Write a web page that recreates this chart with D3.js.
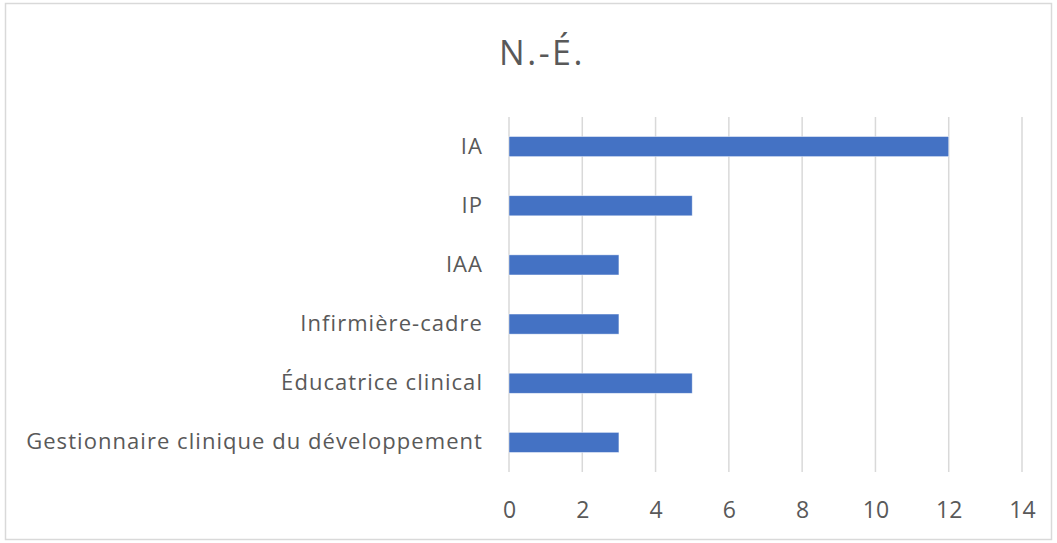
<!DOCTYPE html>
<html>
<head>
<meta charset="utf-8">
<script src="https://cdn.jsdelivr.net/npm/d3@7"></script>
<style>
  body { margin: 0; background: #fff; }
  text { font-family: "Open Sans", "DejaVu Sans", sans-serif; fill: #595959; }
</style>
</head>
<body>
<div id="chart"></div>
<script>
// Chart data
var categories = ["IA", "IP", "IAA", "Infirmière-cadre", "Éducatrice clinical", "Gestionnaire clinique du développement"];
var values = [12, 5, 3, 3, 5, 3];
var ticks = [0, 2, 4, 6, 8, 10, 12, 14];
var title = "N.-É.";

var W = 1057, H = 543;
var margin = {top: 117, right: 35, bottom: 70, left: 509};
var width = 1022 - margin.left;
var height = 472 - margin.top;

var root = d3.select("#chart").append("svg")
    .attr("width", W)
    .attr("height", H);

// outer frame
root.append("rect")
    .attr("x", 5.5).attr("y", 3.5)
    .attr("width", W - 11).attr("height", H - 7)
    .attr("fill", "#fff")
    .attr("stroke", "#d9d9d9")
    .attr("stroke-width", 1.5);

root.append("text")
    .attr("x", 542)
    .attr("y", 65)
    .attr("text-anchor", "middle")
    .style("font-size", "34px")
    .style("letter-spacing", "2.5px")
    .text(title);

var svg = root.append("g")
    .attr("transform", "translate(" + margin.left + "," + margin.top + ")");

var xScale = d3.scaleLinear().domain([0, 14]).range([0, width]);
var yScale = d3.scaleBand().domain(categories).range([0, height]).paddingInner(0.66).paddingOuter(0.33);

// gridlines
svg.append("g")
    .selectAll("line")
    .data(ticks)
    .enter()
    .append("line")
    .attr("x1", function(d) { return xScale(d); })
    .attr("x2", function(d) { return xScale(d); })
    .attr("y1", 0)
    .attr("y2", height)
    .attr("stroke", "#d9d9d9")
    .attr("stroke-width", 1.5);

// bars
svg.append("g")
    .selectAll("rect")
    .data(categories)
    .enter()
    .append("rect")
    .attr("x", xScale(0))
    .attr("y", function(d) { return yScale(d); })
    .attr("width", function(d, i) { return xScale(values[i]) - xScale(0); })
    .attr("height", yScale.bandwidth())
    .attr("fill", "#4472c4")
    .attr("stroke", "#fff")
    .attr("stroke-opacity", 0.6)
    .attr("stroke-width", 0.75);

// x axis
var xAxis = d3.axisBottom(xScale).tickValues(ticks).tickSize(0).tickPadding(30);
svg.append("g")
    .attr("transform", "translate(0," + height + ")")
    .call(xAxis)
    .call(function(g) { g.select(".domain").remove(); })
    .selectAll("text")
    .style("font-size", "23px")
    .style("font-family", "'Open Sans', sans-serif")
    .attr("fill", "#595959");

// y axis
var yAxis = d3.axisLeft(yScale).tickSize(0).tickPadding(26);
svg.append("g")
    .call(yAxis)
    .call(function(g) { g.select(".domain").remove(); })
    .selectAll("text")
    .style("font-size", "22px")
    .style("letter-spacing", "1.05px")
    .style("font-family", "'Open Sans', sans-serif")
    .attr("fill", "#595959");
</script>
</body>
</html>
